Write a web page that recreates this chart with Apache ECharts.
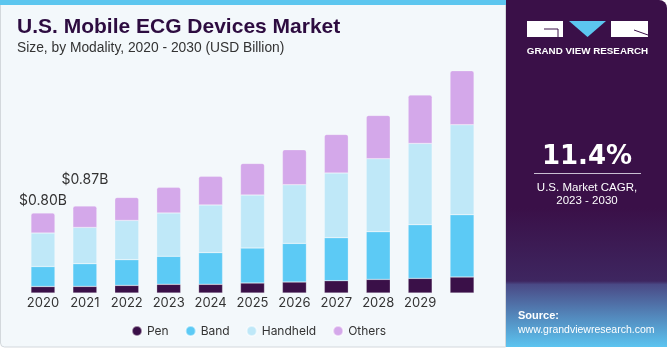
<!DOCTYPE html>
<html>
<head>
<meta charset="utf-8">
<script src="https://cdn.jsdelivr.net/npm/echarts@6/dist/echarts.min.js"></script>
<style>
  html, body { margin: 0; padding: 0; background: #ffffff; }
  #chart { width: 670px; height: 350px; }
</style>
</head>
<body>
<div id="chart"></div>
<script>
// years on the x axis
const years = ['2020', '2021', '2022', '2023', '2024', '2025', '2026', '2027', '2028', '2029', '2030'];
// USD billion
const pen      = [0.065, 0.066, 0.076, 0.087, 0.087, 0.100, 0.110, 0.123, 0.136, 0.146, 0.160];
const band     = [0.200, 0.227, 0.257, 0.280, 0.317, 0.350, 0.386, 0.430, 0.477, 0.537, 0.623];
const handheld = [0.335, 0.363, 0.393, 0.434, 0.477, 0.530, 0.587, 0.647, 0.730, 0.813, 0.900];
const others   = [0.200, 0.214, 0.230, 0.256, 0.286, 0.316, 0.350, 0.386, 0.433, 0.484, 0.540];
// totals shown above the first two bars
const totalLabels = ['$0.80B', '$0.87B'];

const colors = ['#3a1048', '#5ccaf5', '#bfe8f8', '#d4a8ea'];
const font = 'Inter, "Liberation Sans", Arial, sans-serif';

const chart = echarts.init(document.getElementById('chart'));

//  others data with the total labels on first two bars
const othersData = others.map((v, i) => {
    if (i < totalLabels.length) {
        return {
            value: v,
            label: {
                show: true,
                position: 'top',
                distance: i == 0 ? 5 : 19,
                formatter: totalLabels[i],
                color: '#333333',
                fontSize: 14,
                fontFamily: font
            }
        };
    }
    return v;
});

function barSeries(name, data, idx) {
    return {
        name: name,
        type: 'bar',
        stack: 'total',
        barWidth: 24,
        data: data,
        itemStyle: {
            color: colors[idx],
            borderColor: 'rgba(255,255,255,0.5)',
            borderWidth: 0.5,
            borderRadius: idx == 3 ? [2, 2, 0, 0] : 0
        }
    };
}

chart.setOption({
    animation: false,
    color: colors,
    graphic: [
        // left card
        {
            type: 'rect', z: -10,
            shape: { x: 0.5, y: 0.5, width: 505, height: 346.5, r: [0, 0, 0, 4] },
            style: { fill: '#f3f8fb', stroke: '#d3d8dc', lineWidth: 1 }
        },
        {
            type: 'rect', z: -9,
            shape: { x: 0, y: 0, width: 506, height: 5 },
            style: { fill: '#5cc6ef' }
        },
        {
            type: 'text', left: 17, top: 17,
            style: { text: 'U.S. Mobile ECG Devices Market', fill: '#2d0c40', font: 'bold 21px "Liberation Sans", Arial, sans-serif' }
        },
        {
            type: 'text', left: 17, top: 41,
            style: { text: 'Size, by Modality, 2020 - 2030 (USD Billion)', fill: '#333333', font: '13.8px "Liberation Sans", Arial, sans-serif' }
        },
        // right panel
        {
            type: 'rect', z: -10,
            shape: { x: 506, y: 0, width: 161, height: 347, r: [0, 8, 0, 0] },
            style: {
                fill: new echarts.graphic.LinearGradient(0, 0, 0, 1, [
                    { offset: 0, color: '#3a1048' },
                    { offset: 0.6, color: '#3a1048' },
                    { offset: 0.81, color: '#3e2660' },
                    { offset: 0.82, color: '#4a4a86' },
                    { offset: 1, color: '#5cc4f0' }
                ])
            }
        },
        // logo
        {
            type: 'rect', shape: { x: 527, y: 21, width: 36, height: 16 },
            style: { fill: '#ffffff' }
        },
        {
            type: 'polyline', shape: { points: [[544, 29], [558, 29], [558, 37]] },
            style: { stroke: '#3a1048', lineWidth: 1, fill: null }
        },
        {
            type: 'polygon', shape: { points: [[569, 21], [606, 21], [587.5, 37]] },
            style: { fill: '#5cc6ef' }
        },
        {
            type: 'rect', shape: { x: 611, y: 21, width: 37, height: 16 },
            style: { fill: '#ffffff' }
        },
        {
            type: 'line', shape: { x1: 634, y1: 30, x2: 648, y2: 35 },
            style: { stroke: '#3a1048', lineWidth: 1 }
        },
        {
            type: 'text', x: 587.5, y: 51,
            style: { text: 'GRAND VIEW RESEARCH', fill: '#ffffff', font: 'bold 9.8px "Liberation Sans", Arial, sans-serif', align: 'center', verticalAlign: 'middle' }
        },
        {
            type: 'text', x: 587, y: 157,
            style: { text: '11.4%', fill: '#ffffff', font: 'bold 26px "DejaVu Sans", sans-serif', align: 'center', verticalAlign: 'middle' }
        },
        {
            type: 'line', shape: { x1: 534, y1: 173.5, x2: 641, y2: 173.5 },
            style: { stroke: '#c9bfd2', lineWidth: 1 }
        },
        {
            type: 'text', x: 587, y: 188,
            style: { text: 'U.S. Market CAGR,', fill: '#ffffff', font: '11.5px "Liberation Sans", Arial, sans-serif', align: 'center', verticalAlign: 'middle' }
        },
        {
            type: 'text', x: 587, y: 201,
            style: { text: '2023 - 2030', fill: '#ffffff', font: '11.5px "Liberation Sans", Arial, sans-serif', align: 'center', verticalAlign: 'middle' }
        },
        {
            type: 'text', x: 518, y: 316,
            style: { text: 'Source:', fill: '#ffffff', font: 'bold 11px "Liberation Sans", Arial, sans-serif', verticalAlign: 'middle' }
        },
        {
            type: 'text', x: 518, y: 330,
            style: { text: 'www.grandviewresearch.com', fill: '#ffffff', font: '10.5px "Liberation Sans", Arial, sans-serif', verticalAlign: 'middle' }
        }
    ],
    grid: { left: 22, top: 43, width: 461, height: 250 },
    legend: {
        left: 126, top: 320,
        icon: 'circle', itemWidth: 10, itemHeight: 10, itemGap: 16,
        textStyle: { color: '#333333', fontSize: 12, fontFamily: font },
        data: ['Pen', 'Band', 'Handheld', 'Others']
    },
    xAxis: {
        type: 'category',
        data: years,
        axisLine: { show: false },
        axisTick: { show: false },
        // the 2030 label is not shown in the original
        axisLabel: { color: '#333333', fontSize: 13, fontFamily: font, margin: 4, interval: (i) => i < 10 }
    },
    yAxis: {
        type: 'value', min: 0, max: 2.5,
        show: false,
        splitLine: { show: false }
    },
    series: [
        barSeries('Pen', pen, 0),
        barSeries('Band', band, 1),
        barSeries('Handheld', handheld, 2),
        barSeries('Others', othersData, 3)
    ]
});
</script>
</body>
</html>
